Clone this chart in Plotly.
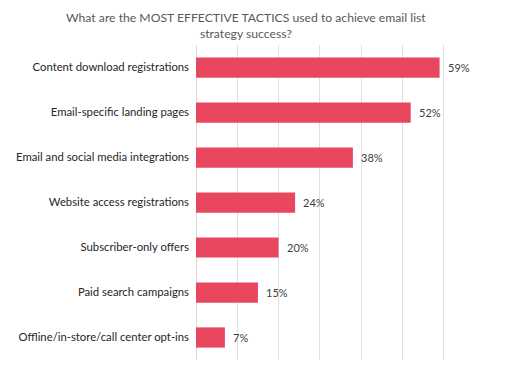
import plotly.graph_objects as go

categories = [
    "Content download registrations",
    "Email-specific landing pages",
    "Email and social media integrations",
    "Website access registrations",
    "Subscriber-only offers",
    "Paid search campaigns",
    "Offline/in-store/call center opt-ins",
]
values = [59, 52, 38, 24, 20, 15, 7]
value_labels = [f"{v}%" for v in values]
title_text = "What are the MOST EFFECTIVE TACTICS used to achieve email list<br>strategy success?"

FONT = "Lato, 'Open Sans', sans-serif"

fig = go.Figure()
fig.add_trace(go.Bar(
    y=categories,
    x=values,
    orientation="h",
    marker=dict(color="#e8475f", line=dict(width=0)),
    width=0.45,
    cliponaxis=False,
))

annotations = [
    dict(x=v, y=c, text=t, xref="x", yref="y", xanchor="left", yanchor="middle",
         xshift=6, showarrow=False, font=dict(family=FONT, size=11, color="#404040"))
    for c, v, t in zip(categories, values, value_labels)
]
annotations.append(dict(
    text=title_text, xref="paper", yref="paper", x=(246 - 196) / 289, y=1 + 37 / 315,
    xanchor="center", yanchor="top", showarrow=False, align="center",
    font=dict(family=FONT, size=12.2, color="#595959"),
))

# page body has an 8px default margin, so the figure is sized and offset to compensate
fig.update_layout(
    width=520, height=360,
    margin=dict(l=188, r=43, t=37, b=8),
    paper_bgcolor="white", plot_bgcolor="white",
    showlegend=False,
    font=dict(family=FONT, color="#404040"),
    annotations=annotations,
)
fig.update_xaxes(range=[0, 70], dtick=10, showgrid=True, gridcolor="#e0e0e0", gridwidth=1,
                 showticklabels=False, zeroline=True, zerolinecolor="#d9d9d9", zerolinewidth=1,
                 showline=False, fixedrange=True, automargin=False)
fig.update_yaxes(autorange="reversed", showgrid=False, ticks="", showline=False, automargin=False,
                 tickfont=dict(family=FONT, size=11.3, color="#262626"), ticklabelstandoff=6)

fig.write_html("out.html")
